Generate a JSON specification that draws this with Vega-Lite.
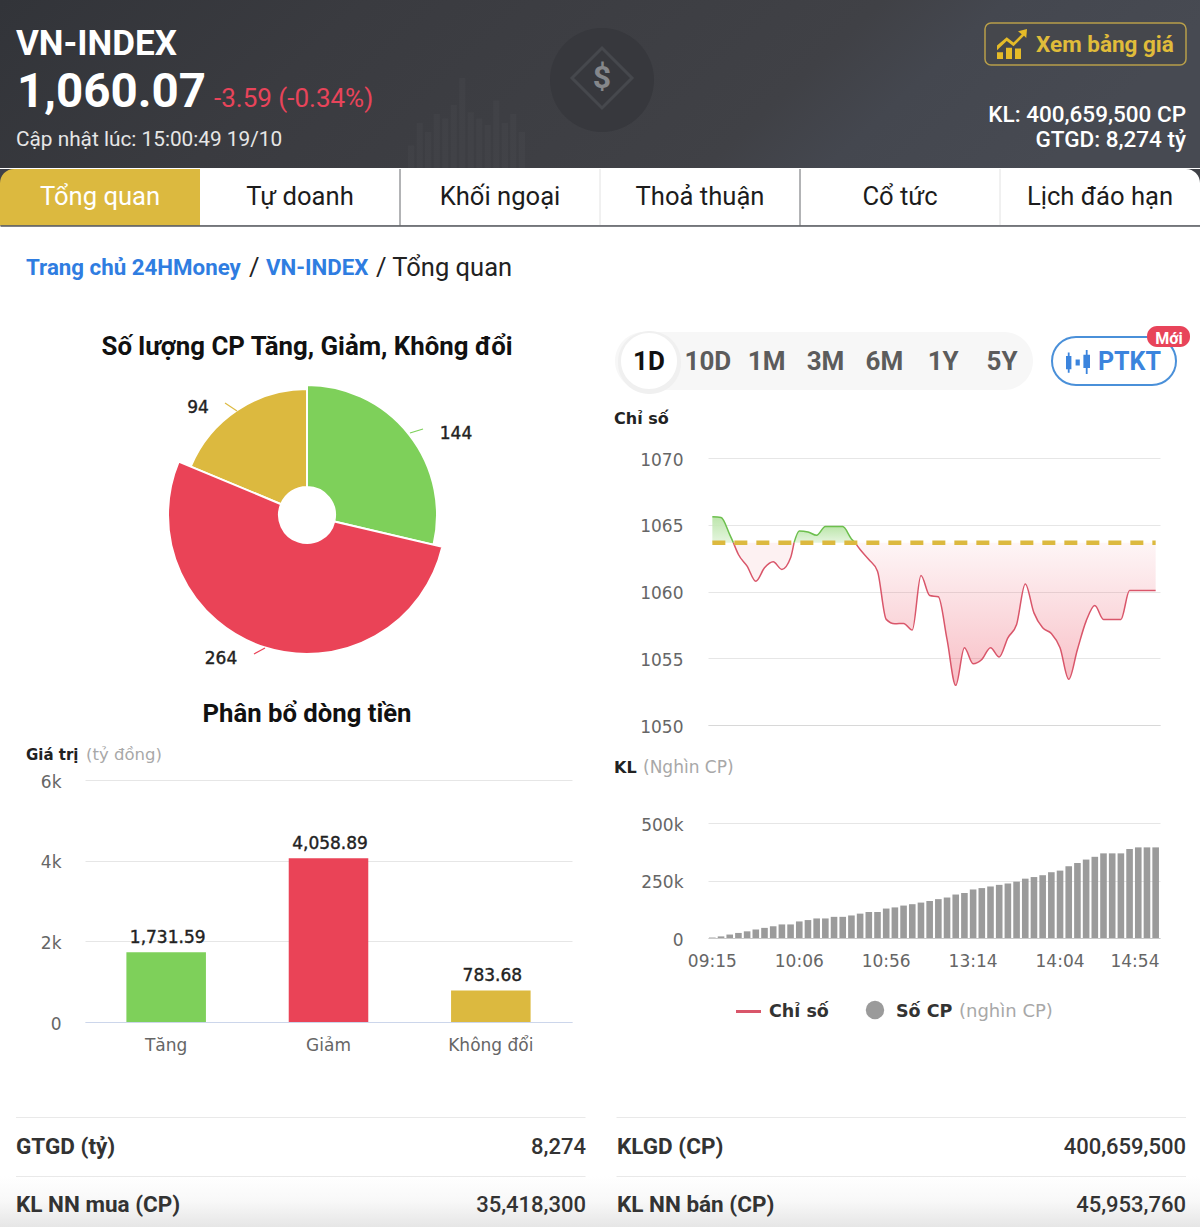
{
  "$schema": "https://vega.github.io/schema/vega-lite/v6.json",
  "padding": 0,
  "background": "white",
  "spacing": 0,
  "config": {"view": {"stroke": null}},
  "vconcat": [
    {
      "width": 1200, "height": 168,
      "resolve": {"scale": {"x": "independent", "y": "independent"}},
      "layer": [
        {"data": {"values": [{"k": "nen"}]},
         "mark": {"type": "rect", "color": {"gradient": "linear", "x1": 0, "y1": 0, "x2": 1, "y2": 0.15, "stops": [{"offset": 0, "color": "#323439"}, {"offset": 0.3, "color": "#3a3b40"}, {"offset": 0.72, "color": "#404146"}, {"offset": 0.82, "color": "#44474f"}, {"offset": 1, "color": "#474a52"}]}}},
        {"data": {"values": [{"c": "a", "v": 25}, {"c": "b", "v": 50}, {"c": "c", "v": 40}, {"c": "d", "v": 60}, {"c": "e", "v": 55}, {"c": "f", "v": 70}, {"c": "g", "v": 100}, {"c": "h", "v": 62}, {"c": "i", "v": 55}, {"c": "j", "v": 48}, {"c": "k", "v": 75}, {"c": "l", "v": 50}, {"c": "m", "v": 60}, {"c": "n", "v": 40}]},
         "mark": {"type": "bar", "color": "#ffffff", "opacity": 0.022},
         "encoding": {
           "x": {"field": "c", "type": "nominal", "axis": null, "scale": {"type": "band", "paddingInner": 0.25, "paddingOuter": 0, "range": [408, 525]}},
           "y": {"field": "v", "type": "quantitative", "axis": null, "scale": {"domain": [0, 100], "range": [168, 78]}}}},
        {"data": {"values": [{"k": "logo"}]},
         "mark": {"type": "point", "filled": true, "shape": "circle", "size": 10800, "color": "#37383d", "opacity": 1},
         "encoding": {
           "x": {"field": "k", "type": "nominal", "axis": null, "scale": {"type": "point", "padding": 0, "range": [602, 602]}},
           "y": {"field": "k", "type": "nominal", "axis": null, "scale": {"type": "point", "padding": 0, "range": [80, 80]}}}},
        {"data": {"values": [{"k": "logo"}]},
         "mark": {"type": "point", "filled": false, "shape": "diamond", "size": 3600, "stroke": "#46484d", "strokeWidth": 3, "opacity": 1},
         "encoding": {
           "x": {"field": "k", "type": "nominal", "axis": null, "scale": {"type": "point", "padding": 0, "range": [602, 602]}},
           "y": {"field": "k", "type": "nominal", "axis": null, "scale": {"type": "point", "padding": 0, "range": [78, 78]}}}},
        {"data": {"values": [{"k": "$"}]},
         "mark": {"type": "text", "font": "Roboto", "fontWeight": "bold", "fontSize": 32, "color": "#85878b"},
         "encoding": {"text": {"field": "k"},
           "x": {"field": "k", "type": "nominal", "axis": null, "scale": {"type": "point", "padding": 0, "range": [602, 602]}},
           "y": {"field": "k", "type": "nominal", "axis": null, "scale": {"type": "point", "padding": 0, "range": [78, 78]}}}},
        {"data": {"values": [{"k": "VN-INDEX"}]},
         "mark": {"type": "text", "align": "left", "font": "Roboto", "fontWeight": "bold", "fontSize": 35, "color": "#ffffff"},
         "encoding": {"text": {"field": "k"},
           "x": {"field": "k", "type": "nominal", "axis": null, "scale": {"type": "point", "padding": 0, "range": [16, 16]}},
           "y": {"field": "k", "type": "nominal", "axis": null, "scale": {"type": "point", "padding": 0, "range": [44, 44]}}}},
        {"data": {"values": [{"k": "1,060.07"}]},
         "mark": {"type": "text", "align": "left", "font": "Roboto", "fontWeight": "bold", "fontSize": 47.5, "color": "#ffffff"},
         "encoding": {"text": {"field": "k"},
           "x": {"field": "k", "type": "nominal", "axis": null, "scale": {"type": "point", "padding": 0, "range": [17, 17]}},
           "y": {"field": "k", "type": "nominal", "axis": null, "scale": {"type": "point", "padding": 0, "range": [93, 93]}}}},
        {"data": {"values": [{"k": "-3.59 (-0.34%)"}]},
         "mark": {"type": "text", "align": "left", "font": "Roboto", "fontSize": 26, "color": "#e8445a"},
         "encoding": {"text": {"field": "k"},
           "x": {"field": "k", "type": "nominal", "axis": null, "scale": {"type": "point", "padding": 0, "range": [214, 214]}},
           "y": {"field": "k", "type": "nominal", "axis": null, "scale": {"type": "point", "padding": 0, "range": [99, 99]}}}},
        {"data": {"values": [{"k": "Cập nhật lúc: 15:00:49 19/10"}]},
         "mark": {"type": "text", "align": "left", "font": "Roboto", "fontSize": 20.8, "color": "#e6e6e6"},
         "encoding": {"text": {"field": "k"},
           "x": {"field": "k", "type": "nominal", "axis": null, "scale": {"type": "point", "padding": 0, "range": [16, 16]}},
           "y": {"field": "k", "type": "nominal", "axis": null, "scale": {"type": "point", "padding": 0, "range": [140, 140]}}}},
        {"data": {"values": [{"k": "nut"}]},
         "mark": {"type": "rect", "fill": "#45474c", "stroke": "#b89f4a", "strokeWidth": 1.5, "cornerRadius": 6},
         "encoding": {
           "x": {"field": "k", "type": "nominal", "axis": null, "scale": {"type": "band", "padding": 0, "range": [985, 1186]}},
           "y": {"field": "k", "type": "nominal", "axis": null, "scale": {"type": "band", "padding": 0, "range": [23, 65]}}}},
        {"data": {"values": [{"k": "icon"}]},
         "mark": {"type": "point", "filled": true, "size": 900, "color": "#e5bb28", "opacity": 1, "shape": "M-1 1V0.55H-0.6V1Z M-0.4 1V0.25H0V1Z M0.2 1V0.3H0.6V1Z M-1 0.1L-0.35 -0.45L0.1 -0.1L0.65 -0.65L0.4 -0.85L1 -1L0.95 -0.4L0.8 -0.55L0.1 0.15L-0.35 -0.2L-1 0.42Z"},
         "encoding": {
           "x": {"field": "k", "type": "nominal", "axis": null, "scale": {"type": "point", "padding": 0, "range": [1012, 1012]}},
           "y": {"field": "k", "type": "nominal", "axis": null, "scale": {"type": "point", "padding": 0, "range": [44, 44]}}}},
        {"data": {"values": [{"k": "Xem bảng giá"}]},
         "mark": {"type": "text", "align": "left", "font": "Roboto", "fontWeight": "bold", "fontSize": 22.5, "color": "#e0bc3a"},
         "encoding": {"text": {"field": "k"},
           "x": {"field": "k", "type": "nominal", "axis": null, "scale": {"type": "point", "padding": 0, "range": [1036, 1036]}},
           "y": {"field": "k", "type": "nominal", "axis": null, "scale": {"type": "point", "padding": 0, "range": [45, 45]}}}},
        {"data": {"values": [{"k": "KL: 400,659,500 CP"}, {"k": "GTGD: 8,274 tỷ"}]},
         "mark": {"type": "text", "align": "right", "font": "Roboto", "fontWeight": 500, "fontSize": 22.5, "color": "#ffffff"},
         "encoding": {"text": {"field": "k"},
           "x": {"field": "k", "type": "nominal", "axis": null, "scale": {"type": "point", "padding": 0, "range": [1186, 1186]}},
           "y": {"field": "k", "type": "nominal", "sort": null, "axis": null, "scale": {"type": "point", "padding": 0, "range": [115, 140]}}}}
      ]
    },
    {
      "width": 1200, "height": 56.5,
      "view": {"fill": "#3f4147", "stroke": null},
      "data": {"values": [{"tab": "Tổng quan"}, {"tab": "Tự doanh"}, {"tab": "Khối ngoại"}, {"tab": "Thoả thuận"}, {"tab": "Cổ tức"}, {"tab": "Lịch đáo hạn"}]},
      "encoding": {
        "x": {"field": "tab", "type": "nominal",
              "scale": {"type": "band", "padding": 0, "domain": ["Tổng quan", "Tự doanh", "Khối ngoại", "Thoả thuận", "Cổ tức", "Lịch đáo hạn"]},
              "axis": {"title": null, "labels": false, "ticks": false, "domainColor": "#55575c", "domainWidth": 1.5}}
      },
      "layer": [
        {"transform": [{"filter": "datum.tab !== 'Tổng quan' && datum.tab !== 'Lịch đáo hạn'"}],
         "mark": {"type": "rect", "color": "#ffffff"}},
        {"transform": [{"filter": "datum.tab === 'Tổng quan'"}],
         "mark": {"type": "rect", "color": "#dcb93f", "cornerRadiusTopLeft": 14}},
        {"transform": [{"filter": "datum.tab === 'Lịch đáo hạn'"}],
         "mark": {"type": "rect", "color": "#ffffff", "cornerRadiusTopRight": 14}},
        {"transform": [{"filter": "datum.tab === 'Tự doanh' || datum.tab === 'Thoả thuận'"}],
         "mark": {"type": "rule", "color": "#66686c", "strokeWidth": 1},
         "encoding": {"x": {"field": "tab", "type": "nominal", "bandPosition": 1}}},
        {"transform": [{"filter": "datum.tab === 'Khối ngoại' || datum.tab === 'Cổ tức'"}],
         "mark": {"type": "rule", "color": "#e2e2e2", "strokeWidth": 1},
         "encoding": {"x": {"field": "tab", "type": "nominal", "bandPosition": 1}}},
        {"mark": {"type": "text", "font": "Roboto", "fontSize": 25.6},
         "encoding": {"text": {"field": "tab"},
           "color": {"condition": {"test": "datum.tab === 'Tổng quan'", "value": "#ffffff"}, "value": "#1c1c1c"}}}
      ]
    },
    {
      "hconcat": [
        {
          "vconcat": [
            {
              "width": 614, "height": 142.5,
              "resolve": {"scale": {"x": "independent", "y": "independent"}},
              "layer": [
                {"data": {"values": [{"k": "Trang chủ 24HMoney"}]},
                 "mark": {"type": "text", "align": "left", "font": "Roboto", "fontWeight": "bold", "fontSize": 22.3, "color": "#2f7de1"},
                 "encoding": {"text": {"field": "k"},
                   "x": {"field": "k", "type": "nominal", "axis": null, "scale": {"type": "point", "padding": 0, "range": [26, 26]}},
                   "y": {"field": "k", "type": "nominal", "axis": null, "scale": {"type": "point", "padding": 0, "range": [42, 42]}}}},
                {"data": {"values": [{"k": "VN-INDEX"}]},
                 "mark": {"type": "text", "align": "left", "font": "Roboto", "fontWeight": "bold", "fontSize": 22.3, "color": "#2f7de1"},
                 "encoding": {"text": {"field": "k"},
                   "x": {"field": "k", "type": "nominal", "axis": null, "scale": {"type": "point", "padding": 0, "range": [266, 266]}},
                   "y": {"field": "k", "type": "nominal", "axis": null, "scale": {"type": "point", "padding": 0, "range": [42, 42]}}}},
                {"data": {"values": [{"k": "/"}, {"k": "/ Tổng quan"}]},
                 "mark": {"type": "text", "align": "left", "font": "Roboto", "fontSize": 25.5, "color": "#222222"},
                 "encoding": {"text": {"field": "k"},
                   "x": {"field": "k", "type": "nominal", "sort": null, "axis": null, "scale": {"type": "point", "padding": 0, "range": [249, 376]}},
                   "y": {"field": "k", "type": "nominal", "axis": null, "scale": {"type": "point", "padding": 0, "range": [42, 42]}}}},
                {"data": {"values": [{"k": "Số lượng CP Tăng, Giảm, Không đổi"}]},
                 "mark": {"type": "text", "font": "Roboto", "fontWeight": "bold", "fontSize": 25.8, "color": "#111111"},
                 "encoding": {"text": {"field": "k"},
                   "x": {"field": "k", "type": "nominal", "axis": null, "scale": {"type": "point", "padding": 0, "range": [307, 307]}},
                   "y": {"field": "k", "type": "nominal", "axis": null, "scale": {"type": "point", "padding": 0, "range": [121, 121]}}}}
              ]
            },
            {
              "width": 614, "height": 292,
              "resolve": {"scale": {"x": "independent", "y": "independent"}},
              "layer": [
                {"data": {"name": "co_phieu", "values": [{"status": "Tăng", "cp": 144, "thu_tu": 1}, {"status": "Giảm", "cp": 264, "thu_tu": 2}, {"status": "Không đổi", "cp": 94, "thu_tu": 3}]},
                 "transform": [{"stack": "cp", "sort": [{"field": "thu_tu"}], "as": ["goc_dau", "goc_cuoi"]}, {"filter": "datum.status === 'Tăng'"}],
                 "mark": {"type": "arc", "stroke": "#ffffff", "strokeWidth": 2},
                 "encoding": {
                   "theta": {"field": "goc_dau", "type": "quantitative", "stack": null, "scale": {"domain": [0, 502]}},
                   "theta2": {"field": "goc_cuoi"},
                   "color": {"field": "status", "type": "nominal", "legend": null,
                             "scale": {"domain": ["Tăng", "Giảm", "Không đổi"], "range": ["#7ed05a", "#ea4357", "#dcb93f"]}},
                   "radius": {"value": 130},
                   "radius2": {"value": 28}}},
                {"data": {"name": "co_phieu"},
                 "transform": [{"stack": "cp", "sort": [{"field": "thu_tu"}], "as": ["goc_dau", "goc_cuoi"]}, {"filter": "datum.status === 'Không đổi'"}],
                 "mark": {"type": "arc", "stroke": "#ffffff", "strokeWidth": 2},
                 "encoding": {
                   "theta": {"field": "goc_dau", "type": "quantitative", "stack": null, "scale": {"domain": [0, 502]}},
                   "theta2": {"field": "goc_cuoi"},
                   "color": {"field": "status", "type": "nominal", "legend": null,
                             "scale": {"domain": ["Tăng", "Giảm", "Không đổi"], "range": ["#7ed05a", "#ea4357", "#dcb93f"]}},
                   "radius": {"value": 126},
                   "radius2": {"value": 28}}},
                {"data": {"name": "co_phieu"},
                 "transform": [{"stack": "cp", "sort": [{"field": "thu_tu"}], "as": ["goc_dau", "goc_cuoi"]}, {"filter": "datum.status === 'Giảm'"}],
                 "mark": {"type": "arc", "stroke": "#ffffff", "strokeWidth": 2},
                 "encoding": {
                   "theta": {"field": "goc_dau", "type": "quantitative", "stack": null, "scale": {"domain": [0, 502]}},
                   "theta2": {"field": "goc_cuoi"},
                   "color": {"field": "status", "type": "nominal", "legend": null,
                             "scale": {"domain": ["Tăng", "Giảm", "Không đổi"], "range": ["#7ed05a", "#ea4357", "#dcb93f"]}},
                   "radius": {"value": 139},
                   "radius2": {"value": 28}}},
                {"data": {"values": [{"cp": "144"}]},
                 "mark": {"type": "text", "font": "DejaVu Sans", "fontSize": 17, "color": "#222222", "stroke": "#222222", "strokeWidth": 0.4},
                 "encoding": {"text": {"field": "cp"},
                   "x": {"field": "cp", "type": "nominal", "axis": null, "scale": {"type": "point", "padding": 0, "range": [456, 456]}},
                   "y": {"field": "cp", "type": "nominal", "axis": null, "scale": {"type": "point", "padding": 0, "range": [65, 65]}}}},
                {"data": {"values": [{"cp": "264"}]},
                 "mark": {"type": "text", "font": "DejaVu Sans", "fontSize": 17, "color": "#222222", "stroke": "#222222", "strokeWidth": 0.4},
                 "encoding": {"text": {"field": "cp"},
                   "x": {"field": "cp", "type": "nominal", "axis": null, "scale": {"type": "point", "padding": 0, "range": [221, 221]}},
                   "y": {"field": "cp", "type": "nominal", "axis": null, "scale": {"type": "point", "padding": 0, "range": [290, 290]}}}},
                {"data": {"values": [{"cp": "94"}]},
                 "mark": {"type": "text", "font": "DejaVu Sans", "fontSize": 17, "color": "#222222", "stroke": "#222222", "strokeWidth": 0.4},
                 "encoding": {"text": {"field": "cp"},
                   "x": {"field": "cp", "type": "nominal", "axis": null, "scale": {"type": "point", "padding": 0, "range": [198, 198]}},
                   "y": {"field": "cp", "type": "nominal", "axis": null, "scale": {"type": "point", "padding": 0, "range": [39, 39]}}}},
                {"data": {"values": [{"k": "144"}]},
                 "mark": {"type": "rule", "color": "#7ed05a", "strokeWidth": 1.2},
                 "encoding": {
                   "x": {"datum": 0, "type": "quantitative", "axis": null, "scale": {"domain": [0, 1], "range": [410, 423]}}, "x2": {"datum": 1},
                   "y": {"datum": 0, "type": "quantitative", "axis": null, "scale": {"domain": [0, 1], "range": [64, 60]}}, "y2": {"datum": 1}}},
                {"data": {"values": [{"k": "264"}]},
                 "mark": {"type": "rule", "color": "#ea4357", "strokeWidth": 1.2},
                 "encoding": {
                   "x": {"datum": 0, "type": "quantitative", "axis": null, "scale": {"domain": [0, 1], "range": [254, 265]}}, "x2": {"datum": 1},
                   "y": {"datum": 0, "type": "quantitative", "axis": null, "scale": {"domain": [0, 1], "range": [285, 279]}}, "y2": {"datum": 1}}},
                {"data": {"values": [{"k": "94"}]},
                 "mark": {"type": "rule", "color": "#dcb93f", "strokeWidth": 1.2},
                 "encoding": {
                   "x": {"datum": 0, "type": "quantitative", "axis": null, "scale": {"domain": [0, 1], "range": [225, 237]}}, "x2": {"datum": 1},
                   "y": {"datum": 0, "type": "quantitative", "axis": null, "scale": {"domain": [0, 1], "range": [34, 42]}}, "y2": {"datum": 1}}}
              ]
            },
            {
              "width": 614, "height": 106,
              "resolve": {"scale": {"x": "independent", "y": "independent"}},
              "layer": [
                {"data": {"values": [{"k": "Phân bổ dòng tiền"}]},
                 "mark": {"type": "text", "font": "Roboto", "fontWeight": "bold", "fontSize": 25.7, "color": "#111111"},
                 "encoding": {"text": {"field": "k"},
                   "x": {"field": "k", "type": "nominal", "axis": null, "scale": {"type": "point", "padding": 0, "range": [307, 307]}},
                   "y": {"field": "k", "type": "nominal", "axis": null, "scale": {"type": "point", "padding": 0, "range": [47, 47]}}}},
                {"data": {"values": [{"k": "Giá trị"}]},
                 "mark": {"type": "text", "align": "left", "font": "DejaVu Sans", "fontWeight": "bold", "fontSize": 15, "color": "#222222"},
                 "encoding": {"text": {"field": "k"},
                   "x": {"field": "k", "type": "nominal", "axis": null, "scale": {"type": "point", "padding": 0, "range": [26, 26]}},
                   "y": {"field": "k", "type": "nominal", "axis": null, "scale": {"type": "point", "padding": 0, "range": [88, 88]}}}},
                {"data": {"values": [{"k": "(tỷ đồng)"}]},
                 "mark": {"type": "text", "align": "left", "font": "DejaVu Sans", "fontSize": 16.5, "color": "#a8a8a8"},
                 "encoding": {"text": {"field": "k"},
                   "x": {"field": "k", "type": "nominal", "axis": null, "scale": {"type": "point", "padding": 0, "range": [86, 86]}},
                   "y": {"field": "k", "type": "nominal", "axis": null, "scale": {"type": "point", "padding": 0, "range": [88, 88]}}}}
              ]
            },
            {
              "hconcat": [
                {"width": 85, "height": 242, "data": {"values": [{"k": "le"}]}, "mark": {"type": "rect", "opacity": 0}},
                {
                  "width": 487, "height": 242,
                  "data": {"values": [{"nhom": "Tăng", "gia_tri": 1731.59}, {"nhom": "Giảm", "gia_tri": 4058.89}, {"nhom": "Không đổi", "gia_tri": 783.68}]},
                  "encoding": {
                    "x": {"field": "nhom", "type": "nominal", "sort": null, "title": null,
                          "scale": {"type": "band", "paddingInner": 0.51, "paddingOuter": 0.255},
                          "axis": {"labelAngle": 0, "labelFont": "DejaVu Sans", "labelFontSize": 17, "labelColor": "#666666", "labelPadding": 15, "ticks": false, "domainColor": "#ccd6eb"}},
                    "y": {"field": "gia_tri", "type": "quantitative", "title": null,
                          "scale": {"domain": [0, 6000]},
                          "axis": {"values": [0, 2000, 4000, 6000], "labelExpr": "datum.value === 0 ? '0' : datum.value / 1000 + 'k'", "labelFont": "DejaVu Sans", "labelFontSize": 17, "labelColor": "#666666", "labelPadding": 24, "labelOffset": 2, "ticks": false, "domain": false, "gridColor": "#e6e6e6"}}
                  },
                  "layer": [
                    {"mark": {"type": "bar"},
                     "encoding": {"color": {"field": "nhom", "type": "nominal", "legend": null,
                       "scale": {"domain": ["Tăng", "Giảm", "Không đổi"], "range": ["#7ed05a", "#ea4357", "#dcb93f"]}}}},
                    {"mark": {"type": "text", "dy": -14, "dx": 1.5, "font": "DejaVu Sans", "fontSize": 17, "color": "#222222", "stroke": "#222222", "strokeWidth": 0.4},
                     "encoding": {"text": {"field": "gia_tri", "type": "quantitative", "format": ",.2f"}}}
                  ]
                },
                {"width": 42, "height": 242, "data": {"values": [{"k": "le"}]}, "mark": {"type": "rect", "opacity": 0}}
              ],
              "spacing": 0, "bounds": "flush"
            },
            {"width": 614, "height": 50, "data": {"values": [{"k": "le"}]}, "mark": {"type": "rect", "opacity": 0}}
          ],
          "spacing": 0
        },
        {
          "vconcat": [
            {
              "width": 586, "height": 224.5,
              "resolve": {"scale": {"x": "independent", "y": "independent"}},
              "layer": [
                {"data": {"values": [{"k": "khung"}]},
                 "mark": {"type": "rect", "color": "#f7f7f7", "cornerRadius": 29},
                 "encoding": {
                   "x": {"field": "k", "type": "nominal", "axis": null, "scale": {"type": "band", "padding": 0, "range": [1, 419]}},
                   "y": {"field": "k", "type": "nominal", "axis": null, "scale": {"type": "band", "padding": 0, "range": [106, 164]}}}},
                {"data": {"values": [{"k": "bong"}]},
                 "mark": {"type": "rect", "color": "#f0f0f0", "cornerRadius": 31},
                 "encoding": {
                   "x": {"field": "k", "type": "nominal", "axis": null, "scale": {"type": "band", "padding": 0, "range": [4, 67]}},
                   "y": {"field": "k", "type": "nominal", "axis": null, "scale": {"type": "band", "padding": 0, "range": [105, 168]}}}},
                {"data": {"values": [{"k": "chon"}]},
                 "mark": {"type": "rect", "color": "#ffffff", "cornerRadius": 28},
                 "encoding": {
                   "x": {"field": "k", "type": "nominal", "axis": null, "scale": {"type": "band", "padding": 0, "range": [7, 63]}},
                   "y": {"field": "k", "type": "nominal", "axis": null, "scale": {"type": "band", "padding": 0, "range": [107, 163]}}}},
                {"data": {"values": [{"k": "1D"}, {"k": "10D"}, {"k": "1M"}, {"k": "3M"}, {"k": "6M"}, {"k": "1Y"}, {"k": "5Y"}]},
                 "mark": {"type": "text", "font": "Roboto", "fontWeight": "bold", "fontSize": 26},
                 "encoding": {"text": {"field": "k"},
                   "color": {"condition": {"test": "datum.k === '1D'", "value": "#111111"}, "value": "#5c5c5c"},
                   "x": {"field": "k", "type": "nominal", "sort": null, "axis": null, "scale": {"type": "point", "padding": 0, "range": [35, 388]}},
                   "y": {"field": "k", "type": "nominal", "axis": null, "scale": {"type": "point", "padding": 0, "range": [136, 136]}}}},
                {"data": {"values": [{"k": "ptkt"}]},
                 "mark": {"type": "rect", "fill": "#ffffff", "stroke": "#4a90d9", "strokeWidth": 2, "cornerRadius": 24},
                 "encoding": {
                   "x": {"field": "k", "type": "nominal", "axis": null, "scale": {"type": "band", "padding": 0, "range": [438, 562]}},
                   "y": {"field": "k", "type": "nominal", "axis": null, "scale": {"type": "band", "padding": 0, "range": [111, 159]}}}},
                {"data": {"values": [{"k": "icon"}]},
                 "mark": {"type": "point", "filled": true, "opacity": 1, "size": 576, "color": "#3b84dd", "shape": "M-1 -0.5H-0.55V0.6H-1Z M-0.85 -0.8H-0.7V0.9H-0.85Z M-0.2 -0.2H0.15V0.3H-0.2Z M0.45 -0.6H1V0.5H0.45Z M0.65 -1H0.8V1H0.65Z"},
                 "encoding": {
                   "x": {"field": "k", "type": "nominal", "axis": null, "scale": {"type": "point", "padding": 0, "range": [464, 464]}},
                   "y": {"field": "k", "type": "nominal", "axis": null, "scale": {"type": "point", "padding": 0, "range": [136, 136]}}}},
                {"data": {"values": [{"k": "PTKT"}]},
                 "mark": {"type": "text", "align": "left", "font": "Roboto", "fontWeight": "bold", "fontSize": 25, "color": "#3b84dd"},
                 "encoding": {"text": {"field": "k"},
                   "x": {"field": "k", "type": "nominal", "axis": null, "scale": {"type": "point", "padding": 0, "range": [484, 484]}},
                   "y": {"field": "k", "type": "nominal", "axis": null, "scale": {"type": "point", "padding": 0, "range": [136, 136]}}}},
                {"data": {"values": [{"k": "moi"}]},
                 "mark": {"type": "rect", "color": "#e8445a", "cornerRadius": 10},
                 "encoding": {
                   "x": {"field": "k", "type": "nominal", "axis": null, "scale": {"type": "band", "padding": 0, "range": [533, 576]}},
                   "y": {"field": "k", "type": "nominal", "axis": null, "scale": {"type": "band", "padding": 0, "range": [100, 121]}}}},
                {"data": {"values": [{"k": "Mới"}]},
                 "mark": {"type": "text", "font": "Roboto", "fontWeight": "bold", "fontSize": 16, "color": "#ffffff"},
                 "encoding": {"text": {"field": "k"},
                   "x": {"field": "k", "type": "nominal", "axis": null, "scale": {"type": "point", "padding": 0, "range": [555, 555]}},
                   "y": {"field": "k", "type": "nominal", "axis": null, "scale": {"type": "point", "padding": 0, "range": [113, 113]}}}},
                {"data": {"values": [{"k": "Chỉ số"}]},
                 "mark": {"type": "text", "align": "left", "font": "DejaVu Sans", "fontWeight": "bold", "fontSize": 16, "color": "#222222"},
                 "encoding": {"text": {"field": "k"},
                   "x": {"field": "k", "type": "nominal", "axis": null, "scale": {"type": "point", "padding": 0, "range": [0, 0]}},
                   "y": {"field": "k", "type": "nominal", "axis": null, "scale": {"type": "point", "padding": 0, "range": [193, 193]}}}}
              ]
            },
            {
              "hconcat": [
                {"width": 94, "height": 267, "data": {"values": [{"k": "le"}]}, "mark": {"type": "rect", "opacity": 0}},
                {
                  "width": 452, "height": 267,
                  "data": {"values": [
                    {"n": 0, "chi_so": 1065.59, "doan": "xanh1"}, {"n": 1, "chi_so": 1065.54, "doan": "xanh1"}, {"n": 2, "chi_so": 1064.26, "doan": "xanh1"}, {"n": 2.42, "chi_so": 1063.66, "doan": "xanh1"},
                    {"n": 2.42, "chi_so": 1063.66, "doan": "do1"}, {"n": 3, "chi_so": 1062.77, "doan": "do1"}, {"n": 4, "chi_so": 1061.9, "doan": "do1"}, {"n": 5, "chi_so": 1060.77, "doan": "do1"}, {"n": 6, "chi_so": 1061.77, "doan": "do1"}, {"n": 7, "chi_so": 1062.22, "doan": "do1"}, {"n": 8, "chi_so": 1061.65, "doan": "do1"}, {"n": 9, "chi_so": 1062.52, "doan": "do1"}, {"n": 9.4, "chi_so": 1063.66, "doan": "do1"},
                    {"n": 9.4, "chi_so": 1063.66, "doan": "xanh2"}, {"n": 10, "chi_so": 1064.54, "doan": "xanh2"}, {"n": 11, "chi_so": 1064.46, "doan": "xanh2"}, {"n": 12, "chi_so": 1064.21, "doan": "xanh2"}, {"n": 13, "chi_so": 1064.86, "doan": "xanh2"}, {"n": 14, "chi_so": 1064.86, "doan": "xanh2"}, {"n": 15, "chi_so": 1064.86, "doan": "xanh2"}, {"n": 16, "chi_so": 1063.94, "doan": "xanh2"}, {"n": 16.42, "chi_so": 1063.66, "doan": "xanh2"},
                    {"n": 16.42, "chi_so": 1063.66, "doan": "do2"}, {"n": 17, "chi_so": 1063.14, "doan": "do2"}, {"n": 18, "chi_so": 1062.39, "doan": "do2"}, {"n": 19, "chi_so": 1061.52, "doan": "do2"}, {"n": 20, "chi_so": 1057.91, "doan": "do2"}, {"n": 21, "chi_so": 1057.58, "doan": "do2"}, {"n": 22, "chi_so": 1057.61, "doan": "do2"}, {"n": 23, "chi_so": 1057.11, "doan": "do2"}, {"n": 24, "chi_so": 1061.2, "doan": "do2"}, {"n": 25, "chi_so": 1059.7, "doan": "do2"}, {"n": 26, "chi_so": 1059.6, "doan": "do2"}, {"n": 27, "chi_so": 1056.41, "doan": "do2"}, {"n": 28, "chi_so": 1052.97, "doan": "do2"}, {"n": 29, "chi_so": 1055.79, "doan": "do2"}, {"n": 30, "chi_so": 1054.59, "doan": "do2"}, {"n": 31, "chi_so": 1054.91, "doan": "do2"}, {"n": 32, "chi_so": 1055.79, "doan": "do2"}, {"n": 33, "chi_so": 1055.09, "doan": "do2"}, {"n": 34, "chi_so": 1056.53, "doan": "do2"}, {"n": 35, "chi_so": 1057.53, "doan": "do2"}, {"n": 36, "chi_so": 1060.57, "doan": "do2"}, {"n": 37, "chi_so": 1058.4, "doan": "do2"}, {"n": 38, "chi_so": 1057.28, "doan": "do2"}, {"n": 39, "chi_so": 1056.86, "doan": "do2"}, {"n": 40, "chi_so": 1055.79, "doan": "do2"}, {"n": 41, "chi_so": 1053.42, "doan": "do2"}, {"n": 42, "chi_so": 1055.66, "doan": "do2"}, {"n": 43, "chi_so": 1057.78, "doan": "do2"}, {"n": 44, "chi_so": 1058.95, "doan": "do2"}, {"n": 45, "chi_so": 1057.91, "doan": "do2"}, {"n": 46, "chi_so": 1057.91, "doan": "do2"}, {"n": 47, "chi_so": 1057.91, "doan": "do2"}, {"n": 48, "chi_so": 1060.07, "doan": "do2"}, {"n": 49, "chi_so": 1060.07, "doan": "do2"}, {"n": 50, "chi_so": 1060.07, "doan": "do2"}, {"n": 51, "chi_so": 1060.07, "doan": "do2"}
                  ]},
                  "encoding": {
                    "x": {"field": "n", "type": "quantitative", "title": null,
                          "scale": {"domain": [-0.5, 51.5], "nice": false, "zero": false},
                          "axis": {"labels": false, "ticks": false, "grid": false, "domainColor": "#d8d8d8"}},
                    "y": {"field": "chi_so", "type": "quantitative", "title": null,
                          "scale": {"domain": [1050, 1070], "zero": false, "nice": false},
                          "axis": {"values": [1050, 1055, 1060, 1065, 1070], "format": "d", "labelFont": "DejaVu Sans", "labelFontSize": 17, "labelColor": "#666666", "labelPadding": 25, "labelOffset": 2, "ticks": false, "domain": false, "gridColor": "#e6e6e6"}}
                  },
                  "layer": [
                    {"transform": [{"filter": "datum.doan === 'xanh1' || datum.doan === 'xanh2'"}],
                     "mark": {"type": "area", "interpolate": "monotone", "opacity": 0.9, "color": {"gradient": "linear", "x1": 0, "y1": 0, "x2": 0, "y2": 1, "stops": [{"offset": 0, "color": "#b5e3a2"}, {"offset": 1, "color": "#e3f4dc"}]}},
                     "encoding": {"y2": {"datum": 1063.66}, "detail": {"field": "doan"}}},
                    {"transform": [{"filter": "datum.doan === 'do1'"}],
                     "mark": {"type": "area", "interpolate": "monotone", "color": "#fdf1f2"},
                     "encoding": {"y2": {"datum": 1063.66}}},
                    {"transform": [{"filter": "datum.doan === 'do2'"}],
                     "mark": {"type": "area", "interpolate": "monotone", "color": {"gradient": "linear", "x1": 0, "y1": 0, "x2": 0, "y2": 1, "stops": [{"offset": 0, "color": "rgba(234,67,87,0.05)"}, {"offset": 1, "color": "rgba(234,67,87,0.34)"}]}},
                     "encoding": {"y2": {"datum": 1063.66}}},
                    {"transform": [{"filter": "datum.doan === 'xanh1' || datum.doan === 'xanh2'"}],
                     "mark": {"type": "line", "interpolate": "monotone", "color": "#6cbf4d", "strokeWidth": 1.5},
                     "encoding": {"detail": {"field": "doan"}}},
                    {"transform": [{"filter": "datum.doan === 'do1' || datum.doan === 'do2'"}],
                     "mark": {"type": "line", "interpolate": "monotone", "color": "#d9566a", "strokeWidth": 1.5},
                     "encoding": {"detail": {"field": "doan"}}},
                    {"data": {"values": [{"tham_chieu": 1063.66, "tu": 0, "den": 51}]},
                     "mark": {"type": "rule", "color": "#dcb93f", "strokeWidth": 4.5, "strokeDash": [13, 9]},
                     "encoding": {"y": {"field": "tham_chieu", "type": "quantitative"}, "x": {"field": "tu", "type": "quantitative"}, "x2": {"field": "den"}}}
                  ]
                },
                {"width": 40, "height": 267, "data": {"values": [{"k": "le"}]}, "mark": {"type": "rect", "opacity": 0}}
              ],
              "spacing": 0, "bounds": "flush"
            },
            {
              "width": 586, "height": 81,
              "resolve": {"scale": {"x": "independent", "y": "independent"}},
              "layer": [
                {"data": {"values": [{"k": "KL"}]},
                 "mark": {"type": "text", "align": "left", "font": "DejaVu Sans", "fontWeight": "bold", "fontSize": 16, "color": "#222222"},
                 "encoding": {"text": {"field": "k"},
                   "x": {"field": "k", "type": "nominal", "axis": null, "scale": {"type": "point", "padding": 0, "range": [0, 0]}},
                   "y": {"field": "k", "type": "nominal", "axis": null, "scale": {"type": "point", "padding": 0, "range": [33, 33]}}}},
                {"data": {"values": [{"k": "(Nghìn CP)"}]},
                 "mark": {"type": "text", "align": "left", "font": "DejaVu Sans", "fontSize": 17, "color": "#a8a8a8"},
                 "encoding": {"text": {"field": "k"},
                   "x": {"field": "k", "type": "nominal", "axis": null, "scale": {"type": "point", "padding": 0, "range": [29, 29]}},
                   "y": {"field": "k", "type": "nominal", "axis": null, "scale": {"type": "point", "padding": 0, "range": [33, 33]}}}}
              ]
            },
            {
              "hconcat": [
                {"width": 94, "height": 115, "data": {"values": [{"k": "le"}]}, "mark": {"type": "rect", "opacity": 0}},
                {
                  "width": 452, "height": 115,
                  "data": {"values": [
                    {"gio": "09:15", "kl": 2}, {"gio": "09:21", "kl": 7}, {"gio": "09:26", "kl": 15}, {"gio": "09:31", "kl": 22}, {"gio": "09:36", "kl": 29}, {"gio": "09:41", "kl": 37}, {"gio": "09:46", "kl": 44}, {"gio": "09:51", "kl": 51}, {"gio": "09:56", "kl": 59}, {"gio": "10:01", "kl": 59},
                    {"gio": "10:06", "kl": 72}, {"gio": "10:11", "kl": 78}, {"gio": "10:16", "kl": 85}, {"gio": "10:21", "kl": 85}, {"gio": "10:26", "kl": 92}, {"gio": "10:31", "kl": 92}, {"gio": "10:36", "kl": 98}, {"gio": "10:41", "kl": 106}, {"gio": "10:46", "kl": 113}, {"gio": "10:51", "kl": 113},
                    {"gio": "10:56", "kl": 128}, {"gio": "11:01", "kl": 133}, {"gio": "11:06", "kl": 141}, {"gio": "11:11", "kl": 147}, {"gio": "11:16", "kl": 154}, {"gio": "11:21", "kl": 161}, {"gio": "11:26", "kl": 169}, {"gio": "12:59", "kl": 176}, {"gio": "13:04", "kl": 189}, {"gio": "13:09", "kl": 196},
                    {"gio": "13:14", "kl": 211}, {"gio": "13:19", "kl": 217}, {"gio": "13:24", "kl": 224}, {"gio": "13:29", "kl": 231}, {"gio": "13:34", "kl": 237}, {"gio": "13:39", "kl": 245}, {"gio": "13:44", "kl": 258}, {"gio": "13:49", "kl": 265}, {"gio": "13:54", "kl": 273}, {"gio": "13:59", "kl": 286},
                    {"gio": "14:04", "kl": 293}, {"gio": "14:09", "kl": 312}, {"gio": "14:14", "kl": 326}, {"gio": "14:19", "kl": 341}, {"gio": "14:24", "kl": 353}, {"gio": "14:29", "kl": 368}, {"gio": "14:34", "kl": 368}, {"gio": "14:39", "kl": 368}, {"gio": "14:44", "kl": 387}, {"gio": "14:49", "kl": 394},
                    {"gio": "14:54", "kl": 394}, {"gio": "14:59", "kl": 394}
                  ]},
                  "mark": {"type": "bar", "color": "#9b9b9b"},
                  "encoding": {
                    "x": {"field": "gio", "type": "nominal", "sort": null, "title": null,
                          "scale": {"type": "band", "paddingInner": 0.24, "paddingOuter": 0.12},
                          "axis": {"values": ["09:15", "10:06", "10:56", "13:14", "14:04", "14:54"], "labelAngle": 0, "labelFont": "DejaVu Sans", "labelFontSize": 17, "labelColor": "#666666", "labelPadding": 15, "labelOverlap": false, "labelBound": false, "labelOffset": {"condition": {"test": "datum.label === '14:54'", "value": -12}, "value": 0}, "ticks": false, "domainColor": "#c9c9c9"}},
                    "y": {"field": "kl", "type": "quantitative", "title": null,
                          "scale": {"domain": [0, 500]},
                          "axis": {"values": [0, 250, 500], "labelExpr": "datum.value === 0 ? '0' : datum.value + 'k'", "labelFont": "DejaVu Sans", "labelFontSize": 17, "labelColor": "#666666", "labelPadding": 25, "labelOffset": 2, "ticks": false, "domain": false, "gridColor": "#e6e6e6"}}
                  }
                },
                {"width": 40, "height": 115, "data": {"values": [{"k": "le"}]}, "mark": {"type": "rect", "opacity": 0}}
              ],
              "spacing": 0, "bounds": "flush"
            },
            {
              "width": 586, "height": 135,
              "resolve": {"scale": {"x": "independent", "y": "independent"}},
              "layer": [
                {"data": {"values": [{"k": "line"}]},
                 "mark": {"type": "rect", "color": "#d9566a"},
                 "encoding": {
                   "x": {"field": "k", "type": "nominal", "axis": null, "scale": {"type": "band", "padding": 0, "range": [122, 147]}},
                   "y": {"field": "k", "type": "nominal", "axis": null, "scale": {"type": "band", "padding": 0, "range": [41, 44]}}}},
                {"data": {"values": [{"k": "cham"}]},
                 "mark": {"type": "point", "filled": true, "opacity": 1, "shape": "circle", "size": 340, "color": "#9b9b9b"},
                 "encoding": {
                   "x": {"field": "k", "type": "nominal", "axis": null, "scale": {"type": "point", "padding": 0, "range": [261, 261]}},
                   "y": {"field": "k", "type": "nominal", "axis": null, "scale": {"type": "point", "padding": 0, "range": [41, 41]}}}},
                {"data": {"values": [{"k": "Chỉ số"}, {"k": "Số CP"}]},
                 "mark": {"type": "text", "align": "left", "font": "DejaVu Sans", "fontWeight": "bold", "fontSize": 17.5, "color": "#333333"},
                 "encoding": {"text": {"field": "k"},
                   "x": {"field": "k", "type": "nominal", "sort": null, "axis": null, "scale": {"type": "point", "padding": 0, "range": [155, 282]}},
                   "y": {"field": "k", "type": "nominal", "axis": null, "scale": {"type": "point", "padding": 0, "range": [43, 43]}}}},
                {"data": {"values": [{"k": "(nghìn CP)"}]},
                 "mark": {"type": "text", "align": "left", "font": "DejaVu Sans", "fontSize": 18, "color": "#a8a8a8"},
                 "encoding": {"text": {"field": "k"},
                   "x": {"field": "k", "type": "nominal", "axis": null, "scale": {"type": "point", "padding": 0, "range": [345, 345]}},
                   "y": {"field": "k", "type": "nominal", "axis": null, "scale": {"type": "point", "padding": 0, "range": [43, 43]}}}}
              ]
            }
          ],
          "spacing": 0
        }
      ],
      "spacing": 0
    },
    {
      "width": 1200, "height": 123,
      "resolve": {"scale": {"x": "independent", "y": "independent"}},
      "layer": [
        {"data": {"values": [{"k": "nen"}]},
         "mark": {"type": "rect", "color": {"gradient": "linear", "x1": 0, "y1": 0, "x2": 0, "y2": 1, "stops": [{"offset": 0, "color": "#ffffff"}, {"offset": 0.5, "color": "#f8f8f8"}, {"offset": 1, "color": "#e6e6e6"}]}},
         "encoding": {
           "y": {"field": "k", "type": "nominal", "axis": null, "scale": {"type": "band", "padding": 0, "range": [72, 123]}}}},
        {"data": {"values": [{"cot": "T", "dong": "1"}, {"cot": "P", "dong": "1"}, {"cot": "T", "dong": "2"}, {"cot": "P", "dong": "2"}]},
         "mark": {"type": "rect", "color": "#e9e9e9"},
         "encoding": {
           "x": {"field": "cot", "type": "nominal", "sort": null, "axis": null, "scale": {"type": "band", "paddingInner": 0.0516, "paddingOuter": 0, "range": [16, 1186]}},
           "y": {"field": "dong", "type": "nominal", "axis": null, "scale": {"type": "band", "paddingInner": 0.983, "paddingOuter": 0, "range": [13, 73]}}}},
        {"data": {"name": "so_lieu", "values": [{"cot": "T", "dong": "1", "ten": "GTGD (tỷ)", "so": "8,274"}, {"cot": "P", "dong": "1", "ten": "KLGD (CP)", "so": "400,659,500"}, {"cot": "T", "dong": "2", "ten": "KL NN mua (CP)", "so": "35,418,300"}, {"cot": "P", "dong": "2", "ten": "KL NN bán (CP)", "so": "45,953,760"}]},
         "mark": {"type": "text", "align": "left", "font": "Roboto", "fontWeight": "bold", "fontSize": 22.5, "color": "#333333"},
         "encoding": {"text": {"field": "ten"},
           "x": {"field": "cot", "type": "nominal", "sort": null, "axis": null, "scale": {"type": "point", "padding": 0, "range": [16, 617]}},
           "y": {"field": "dong", "type": "nominal", "axis": null, "scale": {"type": "point", "padding": 0, "range": [43, 101]}}}},
        {"data": {"name": "so_lieu"},
         "mark": {"type": "text", "align": "right", "font": "Roboto", "fontWeight": 500, "fontSize": 22, "color": "#333333"},
         "encoding": {"text": {"field": "so"},
           "x": {"field": "cot", "type": "nominal", "sort": null, "axis": null, "scale": {"type": "point", "padding": 0, "range": [586, 1186]}},
           "y": {"field": "dong", "type": "nominal", "axis": null, "scale": {"type": "point", "padding": 0, "range": [43, 101]}}}}
      ]
    }
  ]
}
